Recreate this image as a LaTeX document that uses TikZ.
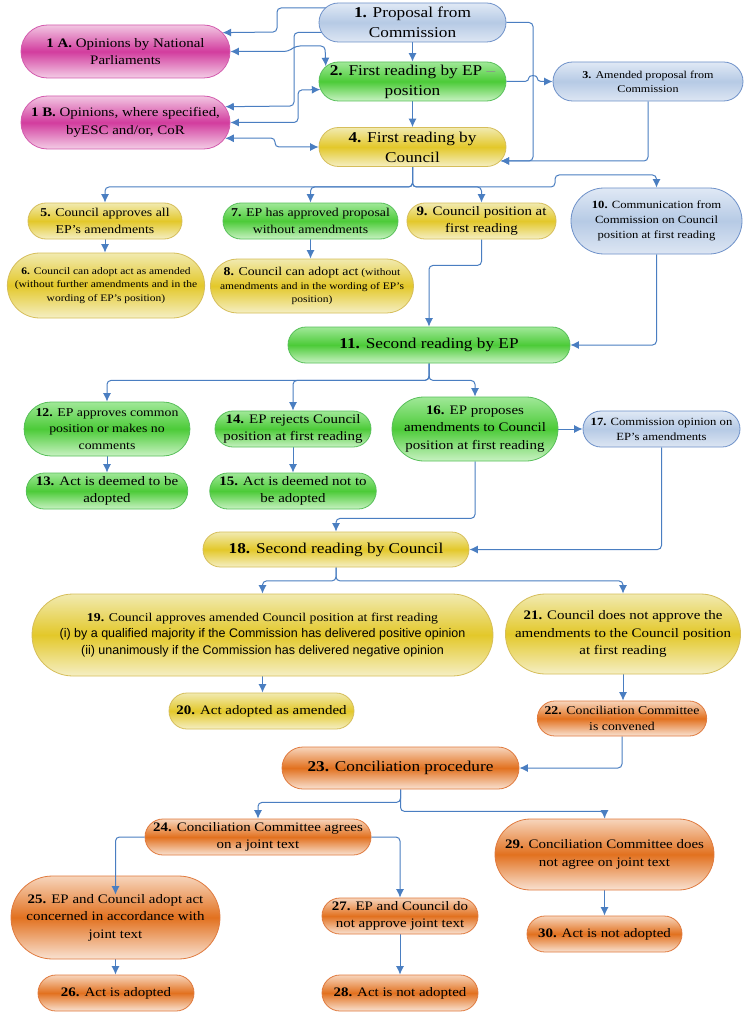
\documentclass[tikz,border=0pt]{standalone}
\usepackage{fontspec}
\setmainfont{Liberation Serif}[FakeStretch=1.15]
\setsansfont{Liberation Sans}
\usetikzlibrary{shapes.misc,arrows.meta,calc}
\pgfdeclarelayer{bg}
\pgfsetlayers{bg,main}
\definecolor{bluetop}{HTML}{E0E9F5}
\definecolor{bluemid}{HTML}{B6CAE5}
\definecolor{bluebot}{HTML}{DDE6F3}
\definecolor{blueline}{HTML}{6E91C9}
\definecolor{pinktop}{HTML}{F2C6E2}
\definecolor{pinkmid}{HTML}{D23C9E}
\definecolor{pinkbot}{HTML}{F4CDE6}
\definecolor{pinkline}{HTML}{D35BAE}
\definecolor{greentop}{HTML}{A0E898}
\definecolor{greenmid}{HTML}{4CCB38}
\definecolor{greenbot}{HTML}{C8F2C2}
\definecolor{greenline}{HTML}{58C05A}
\definecolor{yeltop}{HTML}{F1EAB0}
\definecolor{yelmid}{HTML}{E3C82A}
\definecolor{yelbot}{HTML}{F5EFC4}
\definecolor{yelline}{HTML}{D6BE5A}
\definecolor{ortop}{HTML}{F7D5BC}
\definecolor{ormid}{HTML}{E2711F}
\definecolor{orbot}{HTML}{F9E2D2}
\definecolor{orline}{HTML}{E07A3E}
\definecolor{linkc}{RGB}{74,126,193}
\newcommand\mysf{\sffamily\fontsize{12.5}{15}\selectfont}
\tikzset{
  box/.style={rounded rectangle, line width=0.8pt, align=center, inner xsep=2pt, inner ysep=1pt, text=black},
  sz/.style 2 args={minimum width=#1pt, minimum height=#2pt},
  bluebox/.style={box, draw=blueline, top color=bluetop, bottom color=bluebot, middle color=bluemid},
  pinkbox/.style={box, draw=pinkline, top color=pinktop, bottom color=pinkbot, middle color=pinkmid},
  greenbox/.style={box, draw=greenline, top color=greentop, bottom color=greenbot, middle color=greenmid},
  yellowbox/.style={box, draw=yelline, top color=yeltop, bottom color=yelbot, middle color=yelmid},
  orangebox/.style={box, draw=orline, top color=ortop, bottom color=orbot, middle color=ormid},
  fs15/.style={font=\fontsize{15}{20}\selectfont},
  fs13/.style={font=\fontsize{13}{17.5}\selectfont},
  fs12/.style={font=\fontsize{12}{16.5}\selectfont},
  fs11/.style={font=\fontsize{11}{15}\selectfont},
  fsx/.style={font=\fontsize{10.5}{14}\selectfont},
  fs10/.style={font=\fontsize{10}{13.5}\selectfont},
  conn/.style={draw=linkc, line width=1pt, rounded corners=4pt, -{Latex[length=8.5pt,width=8pt]}},
  dconn/.style={conn, {Latex[length=8.5pt,width=8pt]}-{Latex[length=8.5pt,width=8pt]}}
}
\begin{document}
\begin{tikzpicture}[x=1pt,y=-1pt]
\useasboundingbox (0,0) rectangle (746,1019);
% nodes
\node[bluebox,fs15,sz={191}{39}] (n1) at (412.5,22.5) {\textbf{1.} Proposal from\\Commission};
\node[pinkbox,fs13,sz={213}{53}] (n1a) at (125.5,51.5) {\textbf{1 A.} Opinions by National\\Parliaments};
\node[greenbox,fs15,sz={191}{39}] (n2) at (412.5,81.5) {\textbf{2.} First reading by EP {\color{black!45}–}\\position};
\node[bluebox,fsx,sz={194}{39}] (n3) at (648,81.5) {\textbf{3.} Amended proposal from\\Commission};
\node[pinkbox,fs13,sz={213}{53}] (n1b) at (125.5,122.5) {\textbf{1 B.} Opinions, where specified,\\byESC and/or, CoR};
\node[yellowbox,fs15,sz={191}{39}] (n4) at (412.5,147) {\textbf{4.} First reading by\\Council};
\node[yellowbox,fs12,sz={158}{36}] (n5) at (105,221) {\textbf{5.} Council approves all\\EP's amendments};
\node[greenbox,fs12,sz={179}{36}] (n7) at (310.5,221) {\textbf{7.} EP has approved proposal\\without amendments};
\node[yellowbox,fs13,sz={138}{36}] (n9) at (481.5,221) {\textbf{9.} Council position at\\first reading};
\node[bluebox,fs11,sz={175}{66}] (n10) at (656.5,221) {\textbf{10.} Communication from\\Commission on Council\\position at first reading};
\node[yellowbox,fs10,sz={194}{65}] (n6) at (106,285.5) {\textbf{6.} Council can adopt act as amended\\(without further amendments and in the\\wording of EP's position)};
\node[yellowbox,fs10,sz={196}{54}] (n8) at (312,286) {{\fontsize{12}{16}\selectfont\textbf{8.} Council can adopt act} (without\\amendments and in the wording of EP's\\position)};
\node[greenbox,fs15,sz={286}{36}] (n11) at (429,345) {\textbf{11.} Second reading by EP};
\node[greenbox,fs12,sz={160}{54}] (n12) at (107,429) {\textbf{12.} EP approves common\\position or makes no\\comments};
\node[greenbox,fs13,sz={160}{36}] (n14) at (293,429) {\textbf{14.} EP rejects Council\\position at first reading};
\node[greenbox,fs13,sz={158}{64}] (n16) at (475,429) {\textbf{16.} EP proposes\\amendments to Council\\position at first reading};
\node[bluebox,fs11,sz={161}{36}] (n17) at (661.5,429) {\textbf{17.} Commission opinion on\\EP's amendments};
\node[greenbox,fs13,sz={160}{36}] (n13) at (107,491) {\textbf{13.} Act is deemed to be\\adopted};
\node[greenbox,fs13,sz={160}{36}] (n15) at (293,491) {\textbf{15.} Act is deemed not to\\be adopted};
\node[yellowbox,fs15,sz={270}{35}] (n18) at (336,549.5) {\textbf{18.} Second reading by Council};
\node[yellowbox,fs12,sz={465}{82}] (n19) at (262.5,635) {\textbf{19.} Council approves amended Council position at first reading\\{\mysf (i) by a qualified majority if the Commission has delivered positive opinion}\\{\mysf (ii) unanimously if the Commission has delivered negative opinion}};
\node[yellowbox,fs13,sz={232}{80}] (n21) at (623,634) {\textbf{21.} Council does not approve the\\amendments to the Council position\\at first reading};
\node[yellowbox,fs13,sz={189}{36}] (n20) at (261.5,711) {\textbf{20.} Act adopted as amended};
\node[orangebox,fs12,sz={160}{35}] (n22) at (622,718.5) {\textbf{22.} Conciliation Committee\\is convened};
\node[orangebox,fs15,sz={241}{42}] (n23) at (400.5,768) {\textbf{23.} Conciliation procedure};
\node[orangebox,fs13,sz={230}{36}] (n24) at (258,837) {\textbf{24.} Conciliation Committee agrees\\on a joint text};
\node[orangebox,fs13,sz={223}{71}] (n29) at (604.5,854.5) {\textbf{29.} Conciliation Committee does\\not agree on joint text};
\node[orangebox,fs13,sz={213}{83}] (n25) at (115.5,917.5) {\textbf{25.} EP and Council adopt act\\concerned in accordance with\\joint text};
\node[orangebox,fs13,sz={160}{36}] (n27) at (400,916) {\textbf{27.} EP and Council do\\not approve joint text};
\node[orangebox,fs13,sz={159}{36}] (n30) at (604.5,934) {\textbf{30.} Act is not adopted};
\node[orangebox,fs13,sz={160}{36}] (n26) at (116,993) {\textbf{26.} Act is adopted};
\node[orangebox,fs13,sz={160}{36}] (n28) at (400,993) {\textbf{28.} Act is not adopted};
% connectors
\begin{pgfonlayer}{bg}
\fill[white] (0,0) rectangle (746,1019);
\draw[conn] ($(n1.west)+(14,-14.5)$) -- (277,8) -- (277,32) -- (n1a.11);
\draw[conn] ($(n1.west)+(10,10)$) -- (294,32.5) -- (294,106) -- (n1b.9);
\draw[dconn] (n1a.east) -- (288,51.5) -- (296,46) -- (325,46) -- (n2.170);
\draw[dconn] (n1b.east) -- (298,122.5) -- (298,90) -- (n2.185);
\draw[dconn] (n1b.-9) -- (275,138) -- (275,147) -- (n4.west);
\draw[conn] (n1.south) -- (n2.north);
\draw[conn] (n2.south) -- (n4.north);
\draw[conn] (n1.east) -- (533,22.5) -- (533,161) -- (n4.-9);
\draw[conn] (n3.south) -- (648,161) -- (n4.-9);
\draw[conn] (n2.east) -- (529,81.5) .. controls (529,75) and (537,75) .. (537,81.5) -- (n3.west);
\draw[conn] (n4.south) -- (412.5,187) -| (n5.north);
\draw[conn] (n4.south) -- (412.5,187) -| (n7.north);
\draw[conn] (n4.south) -- (412.5,187) -| (n9.north);
\draw[conn] (n4.south) -- (412.5,187) -- (555,187) -- (555,175) -- (656.5,175) -- (n10.north);
\draw[conn] (n5.south) -- (n5.south |- n6.north);
\draw[conn] (n7.south) -- (n7.south |- n8.north);
\draw[conn] (n9.south) -- ++(0,26) -| (n11.north);
\draw[conn] (n10.south) |- (n11.east);
\draw[conn] (n11.south) -- ++(0,17) -| (n12.north);
\draw[conn] (n11.south) -- ++(0,17) -| (n14.north);
\draw[conn] (n11.south) -- ++(0,17) -| (n16.north);
\draw[conn] (n12.south) -- (n13.north);
\draw[conn] (n14.south) -- (n15.north);
\draw[conn] (n16.east) -- (n17.west);
\draw[conn] (n16.south) -- ++(0,57) -| (n18.north);
\draw[conn] (n17.south) |- (n18.east);
\draw[conn] (n18.south) -- ++(0,13.5) -| (n19.north);
\draw[conn] (n18.south) -- ++(0,13.5) -| (n21.north);
\draw[conn] (n19.south) -- (n19.south |- n20.north);
\draw[conn] (n21.south) -- (n21.south |- n22.north);
\draw[conn] (n22.south) |- (n23.east);
\draw[conn] (n23.south) -- ++(0,13) -| (n24.north);
\draw[conn] (n23.south) -- ++(0,22) -| (n29.north);
\draw[conn] (n24.east) -| (n27.north);
\draw[conn] (n25.south) -- (n25.south |- n26.north);
\draw[conn] (n27.south) -- (n28.north);
\draw[conn] (n29.south) -- (n30.north);
\end{pgfonlayer}
\draw[conn] (n24.west) -| ([yshift=-19pt]n25.north);
\end{tikzpicture}
\end{document}
